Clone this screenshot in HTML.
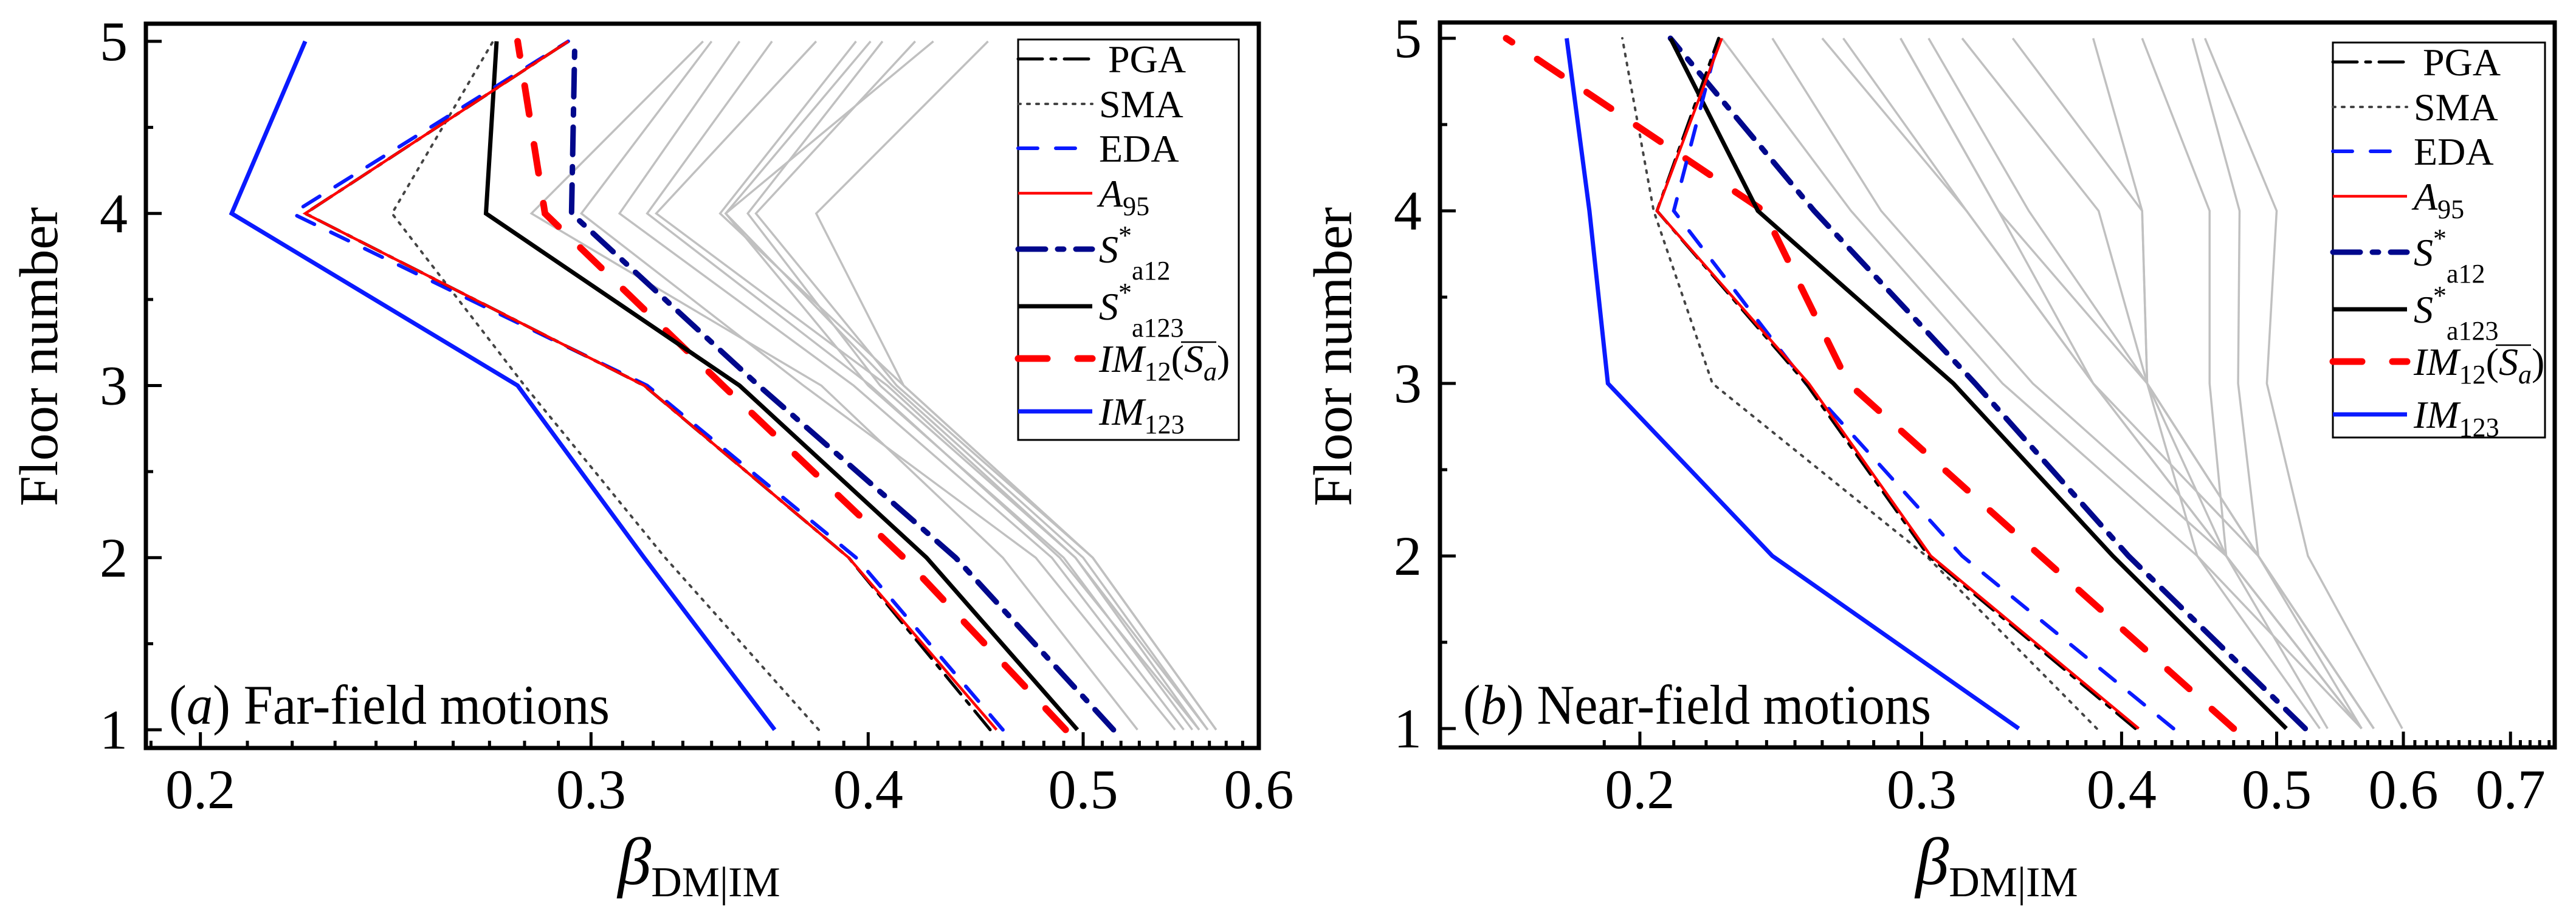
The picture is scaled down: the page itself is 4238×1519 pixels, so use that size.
<!DOCTYPE html>
<html><head><meta charset="utf-8"><style>
html,body{margin:0;padding:0;background:#fff}
svg{display:block}
svg, text, tspan{font-family:"Liberation Serif","Times New Roman",Times,serif}
text{fill:#000}
</style></head><body>
<svg id="fig" width="4238" height="1519" viewBox="0 0 4238 1519" xmlns="http://www.w3.org/2000/svg" font-family="Liberation Serif, Times New Roman, serif"></svg>
<script>
// ----- data -----
const floors = [1, 2, 3, 4, 5];
// panel (a) far-field
const aPGA   = [0.454, 0.392, 0.317, 0.223, 0.293];
const aSMA   = [0.380, 0.324, 0.280, 0.244, 0.271];
const aEDA   = [0.460, 0.395, 0.318, 0.220, 0.293];
const aA95   = [0.457, 0.392, 0.317, 0.223, 0.293];
const aSa12  = [0.516, 0.438, 0.357, 0.294, 0.295];
const aSa123 = [0.497, 0.425, 0.350, 0.269, 0.272];
const aIM12  = [0.491, 0.415, 0.344, 0.286, 0.278];
const aIM123 = [0.363, 0.317, 0.278, 0.2066, 0.223];
const aGray = [
  [0.529,0.460,0.381,0.282,0.337],
  [0.550,0.476,0.374,0.297,0.340],
  [0.555,0.484,0.394,0.309,0.350],
  [0.564,0.488,0.401,0.318,0.362],
  [0.569,0.496,0.408,0.321,0.379],
  [0.574,0.505,0.415,0.343,0.395],
  [0.569,0.500,0.410,0.345,0.401],
  [0.564,0.496,0.405,0.353,0.406],
  [0.574,0.505,0.412,0.356,0.420],
  [0.560,0.490,0.400,0.345,0.428],
  [0.574,0.505,0.415,0.379,0.453]
];
// panel (b) near-field
const bPGA   = [0.408, 0.303, 0.254, 0.205, 0.224];
const bSMA   = [0.386, 0.302, 0.222, 0.204, 0.195];
const bEDA   = [0.431, 0.318, 0.254, 0.210, 0.224];
const bA95   = [0.410, 0.304, 0.255, 0.205, 0.225];
const bSa12  = [0.521, 0.404, 0.324, 0.257, 0.209];
const bSa123 = [0.507, 0.395, 0.314, 0.237, 0.209];
const bIM12  = [0.470, 0.356, 0.270, 0.239, 0.165];
const bIM123 = [0.345, 0.242, 0.191, 0.186, 0.180];
const bGray = [
  [0.532,0.446,0.337,0.271,0.225],
  [0.538,0.465,0.352,0.283,0.242],
  [0.565,0.465,0.384,0.320,0.260],
  [0.565,0.487,0.384,0.320,0.268],
  [0.575,0.487,0.415,0.335,0.291],
  [0.565,0.465,0.384,0.335,0.291],
  [0.575,0.487,0.415,0.350,0.303],
  [0.565,0.465,0.415,0.387,0.318],
  [0.575,0.487,0.415,0.412,0.342],
  [0.565,0.446,0.415,0.412,0.384],
  [0.565,0.465,0.454,0.454,0.412],
  [0.575,0.487,0.473,0.474,0.443],
  [0.599,0.523,0.493,0.500,0.451]
];
const aTickLabels = ["0.2","0.3","0.4","0.5","0.6"];
const bTickLabels = ["0.2","0.3","0.4","0.5","0.6","0.7"];
const yTickLabels = ["1","2","3","4","5"];
const legendLabels = ["PGA","SMA","EDA","A95","Sa12","Sa123","IM12","IM123"];

const NS = "http://www.w3.org/2000/svg";
const svg = document.getElementById("fig");
const FF = "Liberation Serif, Times New Roman, serif";
function mk(tag, attrs, parent) {
  const e = document.createElementNS(NS, tag);
  for (const k in attrs) e.setAttribute(k, attrs[k]);
  if (tag === "text") e.setAttribute("font-family", FF);
  (parent || svg).appendChild(e);
  return e;
}

const styles = {
  PGA:  {stroke:"#000", w:5, dash:"40 14 8 14"},
  SMA:  {stroke:"#444", w:4, dash:"4 11"},
  EDA:  {stroke:"#0a1aff", w:6, dash:"32 30"},
  A95:  {stroke:"#ff0000", w:4.5, dash:""},
  Sa12: {stroke:"#00088c", w:9, dash:"45 20 10 20"},
  Sa123:{stroke:"#000", w:7, dash:""},
  IM12: {stroke:"#ff0000", w:11, dash:"48 50"},
  IM123:{stroke:"#0a1aff", w:7, dash:""}
};

function panel(cfg) {
  const g = mk("g", {});
  
  
  const L = cfg.left, R = cfg.right, T = cfg.top, B = cfg.bottom;
  const k = (R - L) / Math.log(cfg.xmax / cfg.xmin);
  const X = v => L + k * Math.log(v / cfg.xmin);
  const Y = f => cfg.y1 + (f - 1) * (cfg.y5 - cfg.y1) / 4;

  const cp = mk("clipPath", {id: cfg.name + "-clip"}, g);
  mk("rect", {x: L, y: T, width: R - L, height: B - T}, cp);
  const plot = mk("g", {"clip-path": "url(#" + cfg.name + "-clip)"}, g);
  
  

  function line(vals, st, nm) {
    const pts = vals.map((v, i) => X(v).toFixed(1) + "," + Y(floors[i]).toFixed(1)).join(" ");
    const p = mk("polyline", {points: pts, fill: "none", stroke: st.stroke, "stroke-width": st.w,
      "stroke-dasharray": st.dash, "stroke-linecap": st.dash ? "round" : "butt", "stroke-linejoin": "miter"}, plot);
    
    
  }
  cfg.gray.forEach((arr, i) => line(arr, {stroke:"#c0c0c0", w:3.5, dash:""}, "gray-record-line-" + (i + 1)));
  const order = ["SMA","IM123","IM12","Sa12","Sa123","EDA","PGA","A95"];
  order.forEach(key => line(cfg.series[key], styles[key], "series-" + key.toLowerCase()));

  const tg = mk("g", {stroke: "#000", "stroke-width": 5}, g);
  
  
  for (let i = 19; i <= Math.floor(cfg.xmax * 100 + 1e-6); i++) {
    const v = i / 100;
    if (v < cfg.xmin || v > cfg.xmax) continue;
    const major = i % 10 === 0;
    const x = X(v);
    mk("line", {x1: x, x2: x, y1: B, y2: B - (major ? 26 : 12)}, tg);
  }
  for (let f = 1; f <= 5; f += 0.5) {
    const major = Number.isInteger(f);
    mk("line", {x1: L, x2: L + (major ? 26 : 12), y1: Y(f), y2: Y(f)}, tg);
  }
  const fr = mk("rect", {x: L, y: T, width: R - L, height: B - T, fill: "none", stroke: "#000", "stroke-width": 7}, g);
  
  

  cfg.tickLabels.forEach(s => {
    const t = mk("text", {x: X(parseFloat(s)), y: 1330, "font-size": 92, "text-anchor": "middle"}, g);
    t.textContent = s;
    
    
  });
  yTickLabels.forEach(s => {
    const t = mk("text", {x: L - 30, y: Y(parseFloat(s)) + 31, "font-size": 92, "text-anchor": "end"}, g);
    t.textContent = s;
    
    
  });

  const xt = mk("text", {x: cfg.xTitleX, y: 1455, "font-size": 110, "text-anchor": "middle"}, g);
  xt.innerHTML = '<tspan font-style="italic">β</tspan><tspan font-size="70" dy="20">DM|IM</tspan>';
  
  
  const yt = mk("text", {x: 0, y: 0, "font-size": 90, "text-anchor": "middle", transform: "translate(" + (L - 146) + ",587) rotate(-90)"}, g);
  yt.textContent = "Floor number";
  
  

  const pl = mk("text", {x: L + 38, y: 1191, "font-size": 92, textLength: cfg.labelLen, lengthAdjust: "spacingAndGlyphs"}, g);
  pl.innerHTML = '(<tspan font-style="italic">' + cfg.letter + '</tspan>) ' + cfg.label;
  
  

  const lg = mk("g", {}, g);
  
  
  const lx = cfg.legX, ly = cfg.legY;
  const lb = mk("rect", {x: lx, y: ly, width: cfg.legW, height: cfg.legH, fill: "#fff", stroke: "#000", "stroke-width": 3}, lg);
  
  
  const rowY = [32, 106, 179, 253, 345, 439, 525, 612];
  const texts = {
    PGA: '<tspan dx="15">PGA</tspan>',
    SMA: 'SMA',
    EDA: 'EDA',
    A95: '<tspan font-style="italic">A</tspan><tspan font-size="44" dy="14">95</tspan>',
    Sa12: '<tspan font-style="italic">S</tspan><tspan font-size="44" dy="-30">*</tspan><tspan font-size="44" dy="58">a12</tspan>',
    Sa123: '<tspan font-style="italic">S</tspan><tspan font-size="44" dy="-30">*</tspan><tspan font-size="44" dy="58">a123</tspan>',
    IM12: '<tspan font-style="italic">IM</tspan><tspan font-size="44" dy="14">12</tspan><tspan dy="-14">(</tspan><tspan font-style="italic">S</tspan><tspan font-size="44" font-style="italic" dy="14">a</tspan><tspan dy="-14">)</tspan>',
    IM123: '<tspan font-style="italic">IM</tspan><tspan font-size="44" dy="14">123</tspan>'
  };
  legendLabels.forEach((key, i) => {
    const y = ly + rowY[i];
    const st = styles[key];
    const e = mk("g", {}, lg);
    
    
    mk("line", {x1: lx, x2: lx + 122, y1: y, y2: y, stroke: st.stroke, "stroke-width": st.w, "stroke-dasharray": st.dash, "stroke-linecap": st.dash ? "round" : "butt"}, e);
    const t = mk("text", {x: lx + 133, y: y + 22, "font-size": 64}, e);
    t.innerHTML = texts[key];
    if (key === "IM12") {
      mk("line", {x1: lx + 268, x2: lx + 326, y1: y - 27, y2: y - 27, stroke: "#000", "stroke-width": 2.5}, e);
    }
  });
}

panel({name: "panel-a-far-field", left: 240, right: 2071, top: 39, bottom: 1231,
  xmin: 0.189, xmax: 0.6, y1: 1201, y5: 68, gray: aGray,
  series: {PGA: aPGA, SMA: aSMA, EDA: aEDA, A95: aA95, Sa12: aSa12, Sa123: aSa123, IM12: aIM12, IM123: aIM123},
  tickLabels: aTickLabels, xTitleX: 1150, letter: "a", label: "Far-field motions", labelLen: 725,
  legX: 1675, legY: 65, legW: 363, legH: 659});
panel({name: "panel-b-near-field", left: 2369, right: 4203, top: 37, bottom: 1230,
  xmin: 0.150, xmax: 0.746, y1: 1199, y5: 63, gray: bGray,
  series: {PGA: bPGA, SMA: bSMA, EDA: bEDA, A95: bA95, Sa12: bSa12, Sa123: bSa123, IM12: bIM12, IM123: bIM123},
  tickLabels: bTickLabels, xTitleX: 3285, letter: "b", label: "Near-field motions", labelLen: 770,
  legX: 3838, legY: 70, legW: 349, legH: 650});
</script>
</body></html>
